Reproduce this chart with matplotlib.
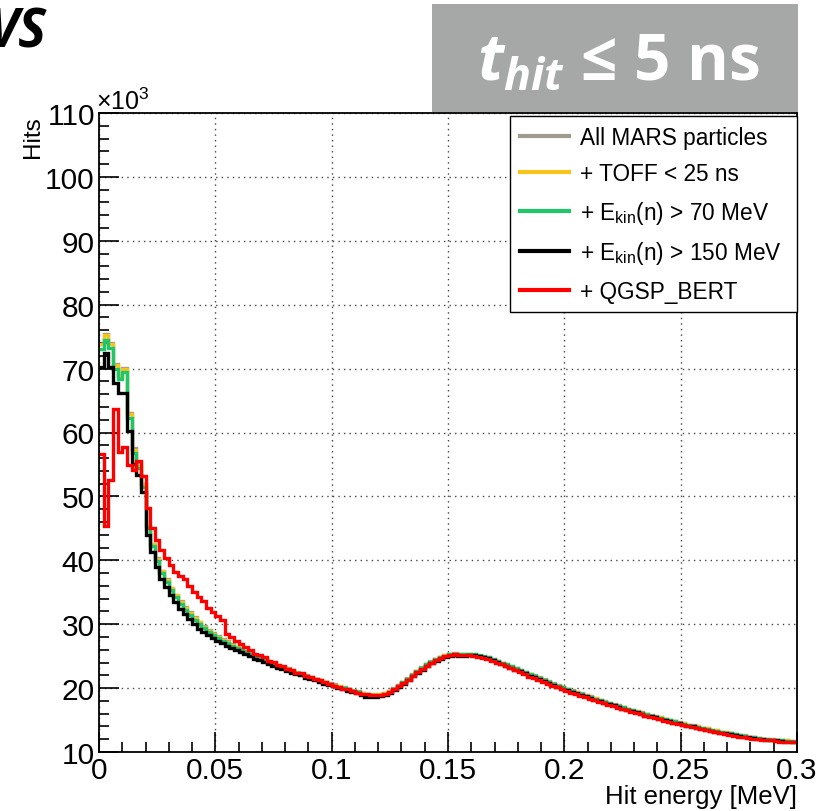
import numpy as np
import matplotlib
matplotlib.use("Agg")
import matplotlib.pyplot as plt
from matplotlib.lines import Line2D
from matplotlib.patches import Rectangle
from matplotlib.ticker import MultipleLocator, FuncFormatter

plt.rcParams['font.family'] = ['Liberation Sans', 'DejaVu Sans']
plt.rcParams['mathtext.fontset'] = 'custom'
plt.rcParams['mathtext.rm'] = 'Liberation Sans'
plt.rcParams['mathtext.it'] = 'Open Sans:italic:bold'
plt.rcParams['mathtext.bf'] = 'Liberation Sans:bold'

# histogram binning: 150 bins of 0.002 MeV from 0 to 0.3 MeV
bin_edges = np.linspace(0.0, 0.3, 151)

# hits per bin, in units of 10^3
all_mars = [
    73.9, 75.4, 74.0, 70.7, 68.9, 70.1, 63.0, 57.6, 55.4, 52.0,
    45.4, 42.6, 40.3, 38.4, 37.0, 35.7, 34.6, 33.6, 32.7, 31.9,
    31.1, 30.4, 29.7, 29.1, 28.6, 28.1, 27.7, 27.3, 26.9, 26.5,
    26.1, 25.8, 25.5, 25.1, 24.9, 24.6, 24.2, 23.9, 23.6, 23.3,
    23.1, 22.8, 22.5, 22.3, 22.0, 21.8, 21.5, 21.3, 21.0, 20.8,
    20.6, 20.3, 20.1, 19.9, 19.7, 19.5, 19.3, 19.1, 19.0, 19.1,
    19.1, 19.3, 19.6, 20.0, 20.5, 21.0, 21.6, 22.2, 22.7, 23.3,
    23.8, 24.2, 24.6, 24.9, 25.2, 25.4, 25.5, 25.4, 25.3, 25.3,
    25.3, 25.1, 24.9, 24.8, 24.5, 24.3, 24.0, 23.7, 23.4, 23.1,
    22.8, 22.5, 22.2, 22.0, 21.7, 21.4, 21.1, 20.8, 20.5, 20.2,
    19.9, 19.7, 19.4, 19.2, 18.9, 18.7, 18.4, 18.2, 18.0, 17.7,
    17.5, 17.3, 17.1, 16.8, 16.6, 16.4, 16.2, 16.0, 15.8, 15.6,
    15.4, 15.2, 15.0, 14.8, 14.7, 14.5, 14.3, 14.2, 14.0, 13.8,
    13.7, 13.5, 13.4, 13.2, 13.1, 13.0, 12.8, 12.7, 12.6, 12.4,
    12.3, 12.2, 12.1, 12.0, 12.0, 11.9, 11.8, 11.8, 11.7, 11.7,
]
toff_25ns = [
    73.8, 75.3, 73.9, 70.6, 68.8, 70.0, 62.9, 57.2, 54.8, 51.9,
    45.3, 42.5, 40.2, 38.3, 36.9, 35.6, 34.5, 33.5, 32.6, 31.8,
    31.0, 30.3, 29.6, 29.0, 28.5, 28.0, 27.6, 27.2, 26.8, 26.4,
    26.0, 25.7, 25.4, 25.0, 24.8, 24.5, 24.1, 23.8, 23.5, 23.2,
    23.0, 22.7, 22.4, 22.2, 21.9, 21.7, 21.4, 21.2, 20.9, 20.7,
    20.5, 20.3, 20.0, 19.8, 19.6, 19.4, 19.2, 19.0, 18.9, 19.0,
    19.0, 19.2, 19.5, 19.9, 20.4, 20.9, 21.5, 22.1, 22.6, 23.2,
    23.7, 24.1, 24.5, 24.9, 25.2, 25.3, 25.4, 25.3, 25.3, 25.3,
    25.2, 25.1, 24.9, 24.7, 24.4, 24.2, 23.9, 23.6, 23.3, 23.0,
    22.7, 22.4, 22.2, 21.9, 21.6, 21.3, 21.0, 20.7, 20.4, 20.1,
    19.9, 19.6, 19.4, 19.1, 18.9, 18.6, 18.4, 18.1, 17.9, 17.7,
    17.4, 17.2, 17.0, 16.8, 16.6, 16.4, 16.1, 15.9, 15.7, 15.5,
    15.4, 15.2, 15.0, 14.8, 14.6, 14.5, 14.3, 14.1, 14.0, 13.8,
    13.7, 13.5, 13.4, 13.2, 13.1, 12.9, 12.8, 12.7, 12.5, 12.4,
    12.3, 12.2, 12.1, 12.0, 11.9, 11.9, 11.8, 11.8, 11.7, 11.6,
]
ekin_70 = [
    73.0, 74.5, 73.2, 70.0, 68.3, 69.4, 62.3, 56.8, 54.5, 51.5,
    45.0, 42.2, 39.9, 38.0, 36.6, 35.3, 34.2, 33.2, 32.3, 31.5,
    30.7, 30.0, 29.4, 28.8, 28.3, 27.8, 27.4, 27.0, 26.6, 26.2,
    25.9, 25.6, 25.3, 24.9, 24.7, 24.4, 24.0, 23.7, 23.4, 23.2,
    22.9, 22.6, 22.4, 22.1, 21.9, 21.6, 21.4, 21.1, 20.9, 20.7,
    20.4, 20.2, 20.0, 19.8, 19.6, 19.4, 19.1, 18.9, 18.9, 18.9,
    18.9, 19.1, 19.4, 19.9, 20.4, 20.9, 21.5, 22.1, 22.7, 23.2,
    23.7, 24.1, 24.5, 24.8, 25.1, 25.3, 25.4, 25.4, 25.3, 25.3,
    25.3, 25.2, 25.0, 24.8, 24.5, 24.2, 23.9, 23.7, 23.4, 23.1,
    22.8, 22.5, 22.2, 21.9, 21.6, 21.3, 21.0, 20.7, 20.4, 20.1,
    19.8, 19.6, 19.3, 19.1, 18.8, 18.6, 18.3, 18.1, 17.9, 17.6,
    17.4, 17.2, 17.0, 16.8, 16.5, 16.3, 16.1, 15.9, 15.7, 15.5,
    15.3, 15.1, 15.0, 14.8, 14.6, 14.4, 14.3, 14.1, 13.9, 13.8,
    13.6, 13.5, 13.3, 13.2, 13.0, 12.9, 12.8, 12.6, 12.5, 12.4,
    12.3, 12.2, 12.1, 12.0, 11.9, 11.9, 11.8, 11.7, 11.7, 11.6,
]
ekin_150 = [
    70.2, 72.4, 70.2, 67.8, 66.2, 66.2, 60.2, 55.0, 53.3, 50.7,
    43.9, 41.3, 38.9, 37.1, 35.8, 34.5, 33.4, 32.4, 31.6, 30.8,
    30.0, 29.3, 28.8, 28.3, 27.9, 27.4, 27.0, 26.6, 26.2, 25.9,
    25.6, 25.3, 25.0, 24.6, 24.4, 24.1, 23.8, 23.4, 23.2, 23.0,
    22.7, 22.4, 22.2, 22.0, 21.6, 21.5, 21.2, 21.0, 20.7, 20.5,
    20.3, 20.0, 19.9, 19.6, 19.4, 19.2, 18.9, 18.6, 18.6, 18.6,
    18.7, 18.9, 19.2, 19.7, 20.2, 20.7, 21.3, 21.9, 22.4, 22.9,
    23.4, 23.9, 24.3, 24.6, 24.9, 25.1, 25.2, 25.0, 25.0, 25.2,
    25.2, 25.0, 24.9, 24.7, 24.4, 24.1, 23.8, 23.5, 23.2, 22.9,
    22.6, 22.3, 21.9, 21.8, 21.4, 21.1, 20.8, 20.5, 20.2, 19.9,
    19.7, 19.4, 19.2, 18.9, 18.7, 18.4, 18.2, 18.0, 17.7, 17.5,
    17.3, 17.0, 16.8, 16.6, 16.4, 16.2, 16.0, 15.7, 15.6, 15.4,
    15.2, 15.0, 14.8, 14.6, 14.5, 14.3, 14.1, 14.0, 13.8, 13.6,
    13.5, 13.3, 13.1, 13.0, 12.9, 12.8, 12.6, 12.5, 12.3, 12.3,
    12.2, 12.0, 12.0, 11.9, 11.8, 11.8, 11.7, 11.6, 11.6, 11.5,
]
qgsp_bert = [
    56.7, 45.3, 52.5, 63.6, 57.0, 57.8, 54.9, 54.1, 55.6, 53.2,
    48.2, 45.0, 43.2, 41.6, 40.3, 39.2, 38.2, 37.6, 37.1, 35.9,
    35.1, 34.3, 33.7, 32.6, 31.9, 31.3, 30.6, 28.5, 28.0, 27.4,
    26.9, 26.4, 26.0, 25.4, 25.2, 24.8, 24.3, 24.1, 23.6, 23.4,
    23.0, 22.8, 22.4, 22.3, 21.9, 21.7, 21.4, 21.2, 20.9, 20.7,
    20.4, 20.2, 19.9, 19.8, 19.5, 19.3, 19.1, 19.0, 18.9, 18.9,
    18.9, 19.1, 19.4, 19.8, 20.3, 20.8, 21.3, 21.9, 22.5, 23.0,
    23.5, 23.9, 24.4, 24.7, 25.0, 25.2, 25.3, 25.2, 25.2, 25.2,
    25.1, 24.9, 24.7, 24.5, 24.2, 23.9, 23.7, 23.4, 23.1, 22.8,
    22.5, 22.2, 21.8, 21.6, 21.3, 21.0, 20.7, 20.4, 20.1, 19.8,
    19.6, 19.3, 19.1, 18.8, 18.6, 18.3, 18.1, 17.8, 17.6, 17.4,
    17.2, 16.9, 16.7, 16.5, 16.3, 16.1, 15.9, 15.7, 15.5, 15.3,
    15.1, 14.9, 14.7, 14.6, 14.4, 14.2, 14.0, 13.9, 13.7, 13.6,
    13.4, 13.3, 13.1, 13.0, 12.8, 12.7, 12.5, 12.4, 12.3, 12.2,
    12.1, 12.0, 11.9, 11.8, 11.8, 11.7, 11.6, 11.6, 11.5, 11.5,
]

series = [
    (all_mars, 'All MARS particles', '#a39a8f'),
    (toff_25ns, '+ TOFF < 25 ns', '#f7c51a'),
    (ekin_70, r'+ E$_{\mathrm{kin}}$(n) > 70 MeV', '#1fc76a'),
    (ekin_150, r'+ E$_{\mathrm{kin}}$(n) > 150 MeV', '#000000'),
    (qgsp_bert, '+ QGSP_BERT', '#ff0000'),
]

W, H = 816, 812
def fx(px):
    return px / W
def fy(py):
    return 1 - py / H

fig = plt.figure(figsize=(W / 100, H / 100), dpi=100)
ax = fig.add_axes([fx(99), fy(753), fx(797) - fx(99), fy(114) - fy(753)])

for vals, label, col in series:
    ax.stairs(vals, bin_edges, color=col, linewidth=2.4, baseline=None)

ax.set_xlim(0, 0.3)
ax.set_ylim(10, 110)
ax.xaxis.set_major_locator(MultipleLocator(0.05))
ax.xaxis.set_minor_locator(MultipleLocator(0.01))
ax.yaxis.set_major_locator(MultipleLocator(10))
ax.yaxis.set_minor_locator(MultipleLocator(2))
ax.xaxis.set_major_formatter(FuncFormatter(lambda v, p: '%g' % round(v, 3)))
ax.yaxis.set_major_formatter(FuncFormatter(lambda v, p: '%d' % round(v)))
ax.tick_params(which='both', direction='in', top=False, right=False,
               labelsize=21.5, width=1.2, colors='black')
ax.tick_params(which='major', length=14.5)
ax.tick_params(which='minor', length=7.2)
ax.tick_params(axis='x', pad=3)
ax.tick_params(axis='y', pad=3)
ax.grid(True, which='major', color='#444444', linestyle=(0, (1, 3)), linewidth=1.0)
ax.set_axisbelow(True)
for sp in ax.spines.values():
    sp.set_linewidth(1.3)

# ROOT style axis titles
fig.text(fx(33), fy(116), 'Hits', rotation=90, ha='center', va='top', fontsize=17.5)
fig.text(fx(797), fy(785), 'Hit energy [MeV]', ha='right', va='top', fontsize=18.5)
fig.text(fx(96), fy(110), r'$\times10^{3}$', ha='left', va='baseline', fontsize=18)

# legend
handles = [Line2D([], [], color=c, linewidth=3) for _, _, c in series]
labels = [lab for _, lab, _ in series]
leg = ax.legend(handles, labels, loc='upper left', mode='expand',
                bbox_to_anchor=(fx(510), fy(314), fx(797) - fx(510), fy(117) - fy(314)),
                bbox_transform=fig.transFigure,
                fontsize=16.3, frameon=True, fancybox=False, framealpha=1,
                edgecolor='black', borderaxespad=0, handlelength=2.2,
                handletextpad=0.45, labelspacing=0.6, borderpad=0.42)
leg.get_frame().set_linewidth(1.0)

# slide decorations: grey time-cut box and clipped heading
fig.patches.append(Rectangle((fx(432), fy(113)), fx(798) - fx(432), fy(5) - fy(113),
                             transform=fig.transFigure, facecolor='#a5a8a6',
                             edgecolor='none', zorder=0))
fig.text(fx(618), fy(63), r'$t_{hit}$ ≤ 5 ns', ha='center', va='center',
         color='white', fontsize=46, fontweight='bold',
         family=['Open Sans', 'DejaVu Sans'])
fig.text(fx(46), fy(6), 'VS', ha='right', va='top', fontsize=38,
         fontweight='bold', fontstyle='italic', family=['Open Sans', 'DejaVu Sans'])

fig.savefig('out.png', dpi=100)
